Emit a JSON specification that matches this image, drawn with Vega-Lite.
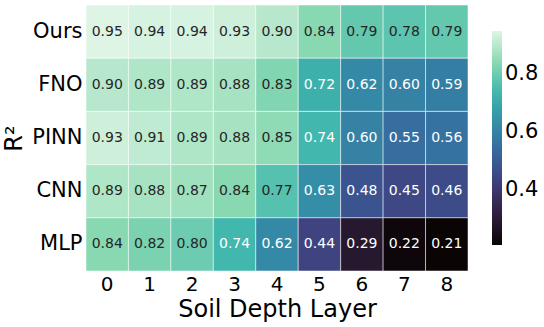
{
  "$schema": "https://vega.github.io/schema/vega-lite/v6.json",
  "width": 382,
  "height": 266,
  "autosize": "none",
  "padding": {"left": 86, "top": 5, "right": 76, "bottom": 56},
  "background": "white",
  "config": {
    "view": {"stroke": null},
    "font": "DejaVu Sans",
    "axis": {"domain": false, "ticks": false, "labelColor": "black", "titleColor": "black", "titleFontWeight": "normal", "labelFont": "DejaVu Sans", "titleFont": "DejaVu Sans"}
  },
  "data": {
    "values": [
      {"model": "Ours", "layer": 0, "r2": 0.95}, {"model": "Ours", "layer": 1, "r2": 0.94}, {"model": "Ours", "layer": 2, "r2": 0.94}, {"model": "Ours", "layer": 3, "r2": 0.93}, {"model": "Ours", "layer": 4, "r2": 0.90}, {"model": "Ours", "layer": 5, "r2": 0.84}, {"model": "Ours", "layer": 6, "r2": 0.79}, {"model": "Ours", "layer": 7, "r2": 0.78}, {"model": "Ours", "layer": 8, "r2": 0.79},
      {"model": "FNO", "layer": 0, "r2": 0.90}, {"model": "FNO", "layer": 1, "r2": 0.89}, {"model": "FNO", "layer": 2, "r2": 0.89}, {"model": "FNO", "layer": 3, "r2": 0.88}, {"model": "FNO", "layer": 4, "r2": 0.83}, {"model": "FNO", "layer": 5, "r2": 0.72}, {"model": "FNO", "layer": 6, "r2": 0.62}, {"model": "FNO", "layer": 7, "r2": 0.60}, {"model": "FNO", "layer": 8, "r2": 0.59},
      {"model": "PINN", "layer": 0, "r2": 0.93}, {"model": "PINN", "layer": 1, "r2": 0.91}, {"model": "PINN", "layer": 2, "r2": 0.89}, {"model": "PINN", "layer": 3, "r2": 0.88}, {"model": "PINN", "layer": 4, "r2": 0.85}, {"model": "PINN", "layer": 5, "r2": 0.74}, {"model": "PINN", "layer": 6, "r2": 0.60}, {"model": "PINN", "layer": 7, "r2": 0.55}, {"model": "PINN", "layer": 8, "r2": 0.56},
      {"model": "CNN", "layer": 0, "r2": 0.89}, {"model": "CNN", "layer": 1, "r2": 0.88}, {"model": "CNN", "layer": 2, "r2": 0.87}, {"model": "CNN", "layer": 3, "r2": 0.84}, {"model": "CNN", "layer": 4, "r2": 0.77}, {"model": "CNN", "layer": 5, "r2": 0.63}, {"model": "CNN", "layer": 6, "r2": 0.48}, {"model": "CNN", "layer": 7, "r2": 0.45}, {"model": "CNN", "layer": 8, "r2": 0.46},
      {"model": "MLP", "layer": 0, "r2": 0.84}, {"model": "MLP", "layer": 1, "r2": 0.82}, {"model": "MLP", "layer": 2, "r2": 0.80}, {"model": "MLP", "layer": 3, "r2": 0.74}, {"model": "MLP", "layer": 4, "r2": 0.62}, {"model": "MLP", "layer": 5, "r2": 0.44}, {"model": "MLP", "layer": 6, "r2": 0.29}, {"model": "MLP", "layer": 7, "r2": 0.22}, {"model": "MLP", "layer": 8, "r2": 0.21}
    ]
  },
  "encoding": {
    "x": {"field": "layer", "type": "ordinal", "scale": {"paddingInner": 0, "paddingOuter": 0}, "axis": {"labelAngle": 0, "labelFontSize": 20, "labelPadding": 3, "title": "Soil Depth Layer", "titleFontSize": 24, "titlePadding": 3}},
    "y": {"field": "model", "type": "nominal", "sort": ["Ours", "FNO", "PINN", "CNN", "MLP"], "scale": {"paddingInner": 0, "paddingOuter": 0}, "axis": {"labelFontSize": 21, "labelPadding": 4, "title": "R²", "titleFontSize": 24, "titlePadding": 5}}
  },
  "layer": [
    {
      "mark": {"type": "rect", "stroke": "white", "strokeWidth": 1, "strokeOpacity": 0.5},
      "encoding": {
        "color": {
          "field": "r2", "type": "quantitative",
          "scale": {
            "domain": [0.21, 0.3157, 0.4214, 0.5271, 0.6329, 0.7386, 0.8443, 0.95],
            "range": ["#0B0405", "#2E1E3C", "#413D7B", "#37659E", "#348FA7", "#40B7AD", "#8BDAB2", "#DEF5E5"],
            "interpolate": "rgb"
          },
          "legend": {
            "title": null, "orient": "none", "legendX": 406, "legendY": 26, "padding": 0,
            "direction": "vertical", "gradientLength": 214, "gradientThickness": 10,
            "values": [0.4, 0.6, 0.8], "format": ".1f", "labelFontSize": 21, "labelFont": "DejaVu Sans", "labelColor": "black", "labelOffset": 3, "gradientStrokeWidth": 0
          }
        }
      }
    },
    {
      "mark": {"type": "text", "fontSize": 14, "font": "DejaVu Sans"},
      "encoding": {
        "text": {"field": "r2", "type": "quantitative", "format": ".2f"},
        "color": {"condition": {"test": "datum.r2 >= 0.76", "value": "#262626"}, "value": "white"}
      }
    }
  ]
}
